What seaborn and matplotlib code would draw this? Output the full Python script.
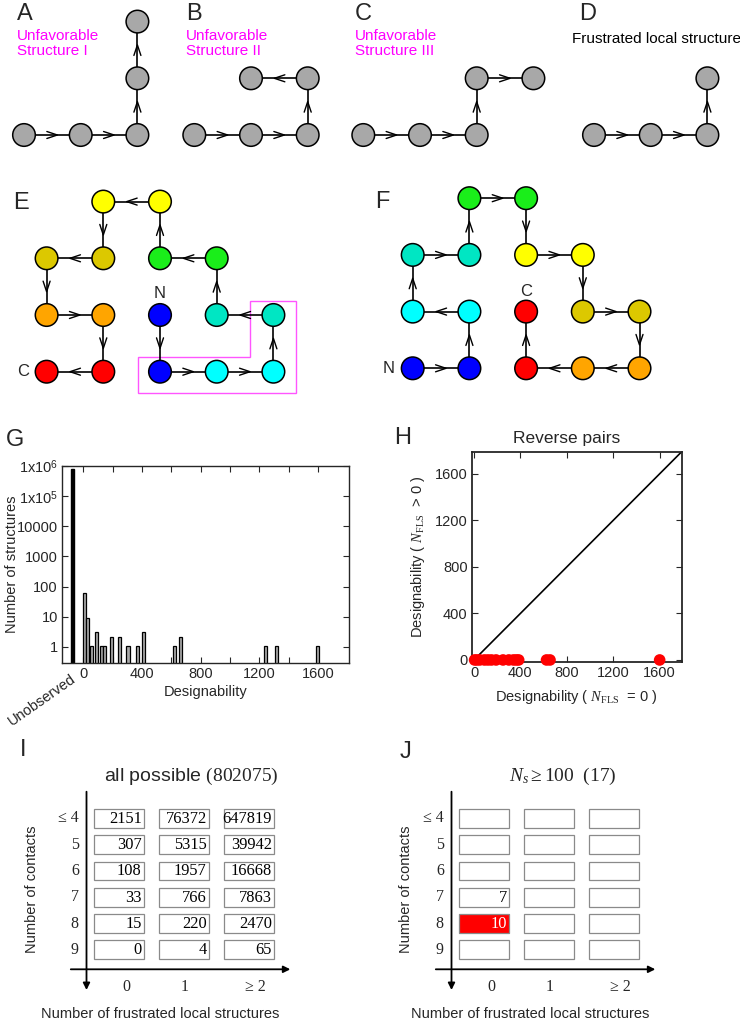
import matplotlib
matplotlib.use("Agg")
import matplotlib.pyplot as plt
import numpy as np
import seaborn as sns
from matplotlib.patches import Rectangle, Polygon

# ---- data ------------------------------------------------------------------
# small lattice motifs, moves from the first bead (R/L/U/D)
motif_letters = ["A", "B", "C", "D"]
motif_moves = ["RRUU", "RRUL", "RRUR", "RRU"]
motif_notes = ["Unfavorable\nStructure I", "Unfavorable\nStructure II",
               "Unfavorable\nStructure III", "Frustrated local structure"]
motif_note_colors = ["#ff00ff", "#ff00ff", "#ff00ff", "black"]

# 16-mer chains, N -> C
chain_e_moves = "DRRULULULDLDRDL"
chain_f_moves = "RULURURDRDRDLLU"
pair_colors = ["#0000ff", "#00ffff", "#00e6c3", "#1aee1a",
               "#ffff00", "#dcc800", "#ffa500", "#ff0000"]

# G: designability histogram
unobserved_count = 801985
design_bins = [8, 31, 54, 92, 124, 146, 191, 249, 305, 367, 409, 622, 664, 1240, 1317, 1597]
design_counts = [60, 9, 1, 3, 1, 1, 2, 2, 1, 1, 3, 1, 2, 1, 1, 1]
g_yticks = [1, 10, 100, 1000, 10000, 1e5, 1e6]
g_yticklabels = ["1", "10", "100", "1000", "10000",
                 r"1x10$^{\mathsf{5}}$", r"1x10$^{\mathsf{6}}$"]

# H: reverse pairs
rev_x = [5, 25, 50, 90, 120, 150, 190, 250, 300, 340, 365, 385, 625, 655, 1600]
rev_y = [0] * len(rev_x)

# I, J: contact / FLS tables
contact_labels = ["≤ 4", "5", "6", "7", "8", "9"]
fls_labels = ["0", "1", "≥ 2"]
counts_all = [[2151, 76372, 647819],
              [307, 5315, 39942],
              [108, 1957, 16668],
              [33, 766, 7863],
              [15, 220, 2470],
              [0, 4, 65]]
counts_top = [[None, None, None],
              [None, None, None],
              [None, None, None],
              [7, None, None],
              [10, None, None],
              [None, None, None]]
top_highlight = (4, 0)

# ---- style -------------------------------------------------------------------
sns.set_style("ticks")
plt.rcParams["font.family"] = ["Liberation Sans", "DejaVu Sans"]
plt.rcParams["mathtext.fontset"] = "custom"
plt.rcParams["mathtext.rm"] = "Liberation Serif"
plt.rcParams["mathtext.it"] = "Liberation Serif:italic"
plt.rcParams["mathtext.sf"] = "Liberation Sans"

SERIF = ["Liberation Serif", "DejaVu Serif"]
STEP = {"R": (1, 0), "L": (-1, 0), "U": (0, -1), "D": (0, 1)}
GRID = 56.7

fig = plt.figure(figsize=(7.4, 10.22), dpi=100)
canvas = fig.add_axes([0, 0, 1, 1])
canvas.set_xlim(0, 740)
canvas.set_ylim(1022, 0)
canvas.axis("off")


def chain_xy(moves, x0, y0):
    pts = [(x0, y0)]
    for m in moves:
        dx, dy = STEP[m]
        pts.append((pts[-1][0] + dx * GRID, pts[-1][1] + dy * GRID))
    return np.array(pts)


def draw_chain(ax, pts, colors):
    ax.plot(pts[:, 0], pts[:, 1], color="black", lw=1.2, zorder=2)
    for p, q in zip(pts[:-1], pts[1:]):
        u = (q - p) / np.linalg.norm(q - p)
        v = np.array([-u[1], u[0]])
        mid = (p + q) / 2
        tip = mid + 5 * u
        tail = mid - 5.5 * u
        w = np.array([tail + 3.5 * v, tip, tail - 3.5 * v])
        ax.plot(w[:, 0], w[:, 1], color="black", lw=1.0, zorder=2)
    ax.scatter(pts[:, 0], pts[:, 1], s=265, c=colors, edgecolors="black",
               linewidths=1.1, zorder=3)


# ---- A-D motifs ----------------------------------------------------------------
motif_x0 = [24, 194.3, 363.3, 594]
letter_x = [17, 186, 355, 579]
for k in range(4):
    pts = chain_xy(motif_moves[k], motif_x0[k], 135)
    draw_chain(canvas, pts, ["#a8a8a8"] * len(pts))
    canvas.text(letter_x[k], 14, motif_letters[k], fontsize=17, va="center", ha="left")
for k in range(3):
    canvas.text(letter_x[k], 43.5, motif_notes[k], color=motif_note_colors[k],
                fontsize=11, va="center", ha="left", linespacing=1.1)
canvas.text(571.7, 38.7, motif_notes[3], color=motif_note_colors[3],
            fontsize=11, va="center", ha="left")

# ---- E, F chains ---------------------------------------------------------------
bead_colors = [pair_colors[i // 2] for i in range(16)]
pts_e = chain_xy(chain_e_moves, 160, 315)
draw_chain(canvas, pts_e, bead_colors)
pts_f = chain_xy(chain_f_moves, 412.7, 368.3)
draw_chain(canvas, pts_f, bead_colors)
canvas.add_patch(Polygon([(137.7, 356.7), (250, 356.7), (250, 300.7), (295.7, 300.7),
                          (295.7, 393.5), (137.7, 393.5)], closed=True, fill=False,
                         ec="#ff55ff", lw=1.0, zorder=1))
canvas.text(20.7, 202.7, "E", fontsize=17, ha="center", va="center")
canvas.text(160, 293.3, "N", fontsize=12, ha="center", va="center")
canvas.text(22.7, 371.7, "C", fontsize=12, ha="center", va="center")
canvas.text(382.7, 201.7, "F", fontsize=17, ha="center", va="center")
canvas.text(389, 368.3, "N", fontsize=12, ha="center", va="center")
canvas.text(525.7, 291, "C", fontsize=12, ha="center", va="center")

# ---- G histogram ---------------------------------------------------------------
axg = fig.add_axes([62 / 740, 1 - 663 / 1022, 286.7 / 740, 197 / 1022])
axg.bar([-73], [unobserved_count], width=22, bottom=0.1, color="black", edgecolor="black")
axg.bar(design_bins, design_counts, width=21, bottom=0.1, color="#aaaaaa",
        edgecolor="black", linewidth=0.9)
axg.set_yscale("log")
axg.set_ylim(0.29, 1.0e6)
axg.set_xlim(-145, 1810)
axg.set_yticks(g_yticks)
axg.set_yticklabels(g_yticklabels)
axg.minorticks_off()
axg.set_xticks([0, 400, 800, 1200, 1600])
axg.set_xticks(np.arange(200, 1800, 400), minor=True)
axg.tick_params(which="both", direction="in", top=True, right=True, labelsize=10.5,
                length=4, width=0.8, pad=3)
axg.set_xlabel("Designability", fontsize=10.5, labelpad=3)
axg.set_ylabel("Number of structures", fontsize=10.5)
axg.yaxis.set_label_coords(-0.15, 0.5)
for s in axg.spines.values():
    s.set_linewidth(1.0)
canvas.text(70, 672, "Unobserved", fontsize=10.5, rotation=35, ha="right", va="top",
            rotation_mode="anchor")
canvas.text(15, 440, "G", fontsize=17, ha="center", va="center")

# ---- H scatter -----------------------------------------------------------------
axh = fig.add_axes([471.7 / 740, 1 - 661.7 / 1022, 210 / 740, 210 / 1022])
sns.lineplot(x=[0, 1800], y=[0, 1800], ax=axh, color="black", lw=1.2)
sns.scatterplot(x=rev_x, y=rev_y, ax=axh, color="red", s=70, edgecolor="none",
                clip_on=False, zorder=5)
axh.set_xlim(-20, 1790)
axh.set_ylim(-15, 1790)
axh.set_xticks([0, 400, 800, 1200, 1600])
axh.set_yticks([0, 400, 800, 1200, 1600])
axh.tick_params(direction="in", top=True, right=True, labelsize=10.5, length=4,
                width=0.8, pad=3)
axh.set_xlabel(r"Designability ( $N_{\rm FLS}$  = 0 )", fontsize=10.5, labelpad=6)
axh.set_ylabel(r"Designability ( $N_{\rm FLS}$  > 0 )", fontsize=10.5)
axh.yaxis.set_label_coords(-0.215, 0.5)
for s in axh.spines.values():
    s.set_linewidth(1.3)
canvas.text(566.7, 438.3, "Reverse pairs", fontsize=12.5, ha="center", va="center")
canvas.text(403, 438, "H", fontsize=17, ha="center", va="center")


# ---- I, J tables ---------------------------------------------------------------
def draw_table(x0, counts, highlight, ylab_x, xlab_x):
    for i in range(len(contact_labels)):
        y = 809 + 26.3 * i
        canvas.text(x0 - 15.5, y + 9.35, contact_labels[i], family=SERIF, fontsize=11.5,
                    ha="right", va="center")
        for j in range(len(fls_labels)):
            x = x0 + 65 * j
            hot = highlight == (i, j)
            canvas.add_patch(Rectangle((x, y), 50, 18.7, fc="red" if hot else "white",
                                       ec="#8a8a8a", lw=0.9))
            if counts[i][j] is not None:
                canvas.text(x + 47.5, y + 9.8, str(counts[i][j]), family=SERIF,
                            fontsize=11.8, ha="right", va="center",
                            color="white" if hot else "black")
    for j, off in enumerate([7, 0.5, 6]):
        canvas.text(x0 + 65 * j + 25 + off, 986.7, fls_labels[j], family=SERIF,
                    fontsize=11.5, ha="center", va="center")
    ax_arrow = dict(arrowstyle="-|>", color="black", lw=1.3, mutation_scale=10,
                    shrinkA=0, shrinkB=0)
    canvas.annotate("", xy=(x0 - 7.8, 990), xytext=(x0 - 7.8, 791.7), arrowprops=ax_arrow)
    canvas.annotate("", xy=(x0 + 196, 969.3), xytext=(x0 - 23.5, 969.3), arrowprops=ax_arrow)
    canvas.text(ylab_x, 889, "Number of contacts", fontsize=10.5, rotation=90,
                ha="center", va="center")
    canvas.text(xlab_x, 1014, "Number of frustrated local structures", fontsize=10.5,
                ha="center", va="center")


draw_table(94.3, counts_all, None, 32.5, 160)
canvas.text(191.7, 776, r"all possible $(802075)$", fontsize=14, ha="center", va="center")
canvas.text(23.5, 750.5, "I", fontsize=17, ha="center", va="center")

draw_table(459.3, counts_top, top_highlight, 406, 530)
canvas.text(563, 776, r"$N_s \geq 100\ \ (17)$", fontsize=14, ha="center", va="center")
canvas.text(406, 751.7, "J", fontsize=17, ha="center", va="center")

fig.savefig("out.png", dpi=100)
